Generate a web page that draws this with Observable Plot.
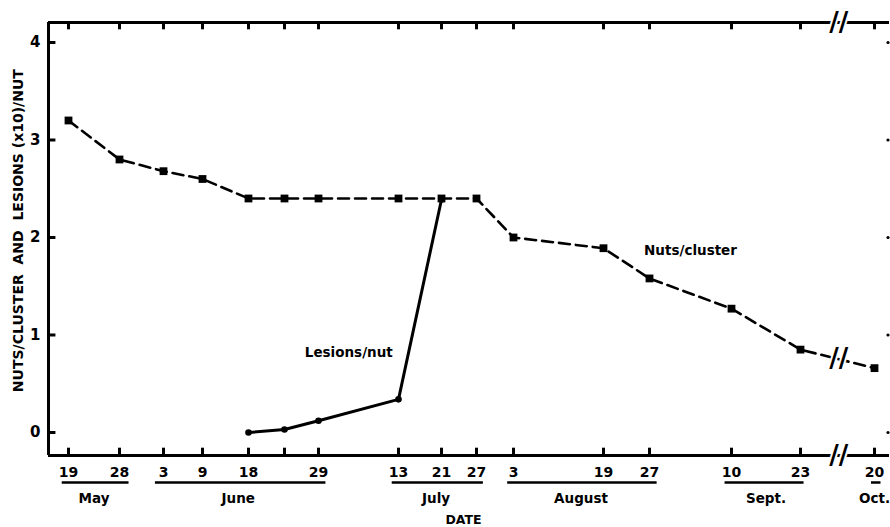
<!DOCTYPE html>
<html>
<head>
<meta charset="utf-8">
<script src="https://cdn.jsdelivr.net/npm/d3@7"></script>
<script src="https://cdn.jsdelivr.net/npm/@observablehq/plot@0.6"></script>
<style>
  html, body { margin: 0; padding: 0; background: #fff; }
  #chart svg { display: block; font-family: "DejaVu Sans", sans-serif; }
</style>
</head>
<body>
<div id="chart"></div>
<script>
// ---- data (day of year, 1970 calendar) ----
const sampleDates = ["05-19","05-28","06-03","06-09","06-18","06-24","06-29","07-13","07-21","07-27","08-03","08-19","08-27","09-10","09-23","10-20"];
const tickLabels  = ["19","28","3","9","18","","29","13","21","27","3","19","27","10","23","20"];
const nutsPerCluster = [3.2, 2.8, 2.68, 2.6, 2.4, 2.4, 2.4, 2.4, 2.4, 2.4, 2.0, 1.89, 1.58, 1.27, 0.85, 0.66];
const lesionDates = ["06-18","06-24","06-29","07-13","07-21"];
const lesionsPerNut = [0.0, 0.03, 0.12, 0.34, 2.39];
const months = ["May","June","July","August","Sept.","Oct."];
const monthFirst = ["05-19","06-03","07-13","08-03","09-10","10-20"];
const monthLast  = ["05-28","06-29","07-27","08-27","09-23","10-20"];
const yTicks = [0, 1, 2, 3, 4];

const doy = s => d3.utcDay.count(d3.utcYear(new Date("1970-" + s)), new Date("1970-" + s)) + 1;
const ticksDay = sampleDates.map(doy);
const nuts = sampleDates.map((d, i) => ({x: doy(d), y: nutsPerCluster[i]}));
const lesions = lesionDates.map((d, i) => ({x: doy(d), y: lesionsPerNut[i]}));
const monthRows = months.map((m, i) => ({m, a: doy(monthFirst[i]), b: doy(monthLast[i])}));

// axis geometry (hand-drawn, broken axis between Sept 23 and Oct 20)
const xLeft = ticksDay[0] - 3.5, xRight = ticksDay[ticksDay.length - 1] + 3;
const breakDay = 280;
const yBot = -0.236, yTop = 4.205;
const tickLenY = 0.075, tickLenX = 1.3;

const font = "'DejaVu Sans', sans-serif";
const B = {fontWeight: "bold", fill: "#000"};

const chart = Plot.plot({
  width: 890,
  height: 527,
  marginLeft: 48, marginRight: 1, marginTop: 22, marginBottom: 72,
  style: {fontFamily: font, background: "#fff", color: "#000"},
  x: {type: "linear", axis: null,
      domain: [xLeft, ...ticksDay, xRight],
      range:  [48, 68, 119, 163, 202, 248, 284, 318, 398, 441, 476, 513, 603, 649, 731, 800, 874, 889]},
  y: {domain: [yBot, yTop], axis: null},
  marks: [
    // frame
    Plot.ruleY([yBot, yTop], {x1: xLeft, x2: xRight, stroke: "#000", strokeWidth: 3}),
    Plot.ruleX([xLeft], {y1: yBot, y2: yTop, stroke: "#000", strokeWidth: 3}),
    // y ticks (left, inward) and right tick dots
    Plot.ruleY(yTicks, {x1: xLeft, x2: xLeft + tickLenX, stroke: "#000", strokeWidth: 3}),
    Plot.dot(yTicks, {x: xRight - 0.3, y: d => d, r: 1.6, fill: "#000"}),
    Plot.text(yTicks, {x: xLeft, y: d => d, text: d => String(d), textAnchor: "end", dx: -8, fontSize: 15, ...B}),
    // x ticks bottom and top (inward)
    Plot.ruleX(ticksDay, {y1: yBot, y2: yBot + tickLenY, stroke: "#000", strokeWidth: 3}),
    Plot.ruleX(ticksDay, {y1: yTop, y2: yTop - tickLenY, stroke: "#000", strokeWidth: 3}),
    Plot.text(ticksDay, {x: d => d, y: yBot, text: (d, i) => tickLabels[i], dy: 17, fontSize: 14, ...B}),
    // month underlines and names
    Plot.ruleY(monthRows, {y: yBot, x1: d => d.a - 1.1, x2: d => d.b + 1.3, dy: 27, stroke: "#000", strokeWidth: 2.5}),
    Plot.text(monthRows, {x: d => (d.a + d.b) / 2, y: yBot, text: "m", dy: 43, fontSize: 13.5, ...B}),
    Plot.text(["DATE"], {x: 202, y: yBot, dy: 64, dx: 22, text: d => d, fontSize: 12.5, ...B}),
    // y label
    Plot.text(["NUTS/CLUSTER  AND  LESIONS (x10)/NUT"], {frameAnchor: "left", textAnchor: "middle", dx: -30, y: 2.07, rotate: -90,
      text: d => d, fontSize: 14, ...B, style: "letter-spacing:0.7px; white-space:pre"}),
    // series
    Plot.line(nuts, {x: "x", y: "y", stroke: "#000", strokeWidth: 2.6, strokeDasharray: "11,6"}),
    Plot.dot(nuts, {x: "x", y: "y", symbol: "square", r: 4.4, fill: "#000"}),
    Plot.line(lesions, {x: "x", y: "y", stroke: "#000", strokeWidth: 3}),
    Plot.dot(lesions, {x: "x", y: "y", r: 3.3, fill: "#000"}),
    // axis / line breaks
    Plot.text([yBot, yTop, (nutsPerCluster[14] + nutsPerCluster[15]) / 2], {x: breakDay, y: d => d, text: () => "//",
      fontSize: 26, ...B, stroke: "#fff", strokeWidth: 4}),
    // annotations
    Plot.text(["Lesions/nut"], {x: 185.3, y: 0.82, text: d => d, fontSize: 13.5, ...B}),
    Plot.text(["Nuts/cluster"], {x: 246, y: 1.86, text: d => d, fontSize: 13.5, ...B})
  ]
});
document.getElementById("chart").appendChild(chart);
</script>
</body>
</html>
